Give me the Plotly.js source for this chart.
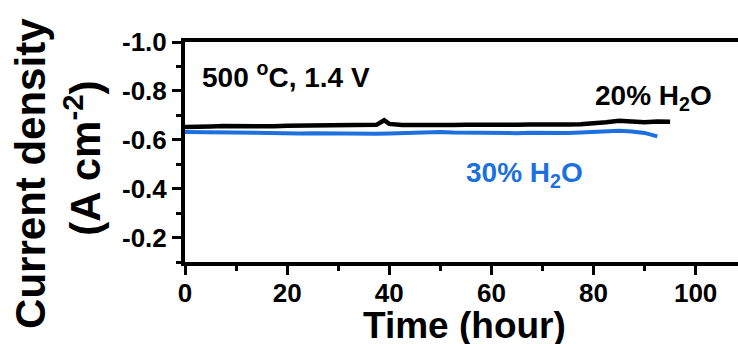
<!DOCTYPE html>
<html>
<head>
<meta charset="utf-8">
<script src="https://cdn.plot.ly/plotly-3.0.1.min.js"></script>
<style>html,body{margin:0;padding:0;background:#fff;}#chart{width:738px;height:344px;}</style>
</head>
<body>
<div id="chart"></div>
<script>
// Time (hour)
const time20 = [0,2.5,5,7.5,10,12.5,15,17.5,20,22.5,25,27.5,30,32.5,35,37.5,39,40,42.5,45,47.5,50,52.5,55,57.5,60,62.5,65,67.5,70,72.5,75,77.5,80,82.5,85,87.5,90,92.5,95];
const current20 = [-0.652,-0.655,-0.654,-0.656,-0.655,-0.657,-0.656,-0.655,-0.657,-0.658,-0.657,-0.658,-0.659,-0.658,-0.660,-0.661,-0.680,-0.665,-0.660,-0.659,-0.660,-0.661,-0.660,-0.661,-0.660,-0.661,-0.660,-0.661,-0.662,-0.661,-0.662,-0.663,-0.664,-0.667,-0.672,-0.678,-0.673,-0.672,-0.675,-0.674];
const time30 = [0,2.5,5,7.5,10,12.5,15,17.5,20,22.5,25,27.5,30,32.5,35,37.5,40,42.5,45,47.5,50,52.5,55,57.5,60,62.5,65,67.5,70,72.5,75,77.5,80,82.5,85,87.5,90,92.5];
const current30 = [-0.632,-0.631,-0.630,-0.629,-0.629,-0.628,-0.627,-0.628,-0.627,-0.626,-0.627,-0.626,-0.625,-0.626,-0.627,-0.625,-0.626,-0.628,-0.631,-0.634,-0.632,-0.630,-0.629,-0.628,-0.627,-0.628,-0.627,-0.629,-0.628,-0.627,-0.628,-0.630,-0.633,-0.632,-0.637,-0.634,-0.628,-0.614];
const xTickVals = [0,20,40,60,80,100];
const yTickVals = [-1.0,-0.8,-0.6,-0.4,-0.2];
const yTickText = ['-1.0','-0.8','-0.6','-0.4','-0.2'];
const label20 = '20% H<sub>2</sub>O';
const label30 = '30% H<sub>2</sub>O';
const condition = '500 <sup>o</sup>C, 1.4 V';
const yTitle1 = 'Current density';
const yTitle2 = '(A cm<sup>-2</sup>)';
const xTitle = 'Time (hour)';

const BLUE = '#1c70e0';
const FONT = 'Liberation Sans, Arial, sans-serif';

const traces = [
  {x: time20, y: current20, type: 'scatter', mode: 'lines', line: {color: '#000000', width: 4.5}, showlegend: false},
  {x: time30, y: current30, type: 'scatter', mode: 'lines', line: {color: BLUE, width: 4}, showlegend: false}
];

const layout = {
  width: 738, height: 344,
  margin: {l: 185, r: 0, t: 42, b: 82},
  paper_bgcolor: '#ffffff', plot_bgcolor: '#ffffff',
  font: {family: FONT, color: '#000', size: 26},
  xaxis: {
    range: [0, 108.3],
    tickvals: xTickVals,
    ticks: 'outside', ticklen: 9, tickwidth: 3, tickcolor: '#000',
    minor: {dtick: 10, tick0: 0, ticks: 'outside', ticklen: 5, tickwidth: 3, tickcolor: '#000'},
    showline: true, linewidth: 4, linecolor: '#000', mirror: true,
    showgrid: false, zeroline: false,
    ticklabelstandoff: -4,
    tickfont: {family: FONT, size: 26, color: '#000', weight: 'bold'}
  },
  yaxis: {
    range: [-0.1, -1.0],
    tickvals: yTickVals, ticktext: yTickText,
    ticks: 'outside', ticklen: 9, tickwidth: 3, tickcolor: '#000',
    minor: {dtick: 0.1, tick0: 0, ticks: 'outside', ticklen: 5, tickwidth: 3, tickcolor: '#000'},
    showline: true, linewidth: 4, linecolor: '#000', mirror: false,
    showgrid: false, zeroline: false,
    tickfont: {family: FONT, size: 26, color: '#000', weight: 'bold'}
  },
  annotations: [
    {x: -0.2785, y: 0.405, xref: 'paper', yref: 'paper', text: '<b>' + yTitle1 + '</b>', textangle: -90, showarrow: false, xanchor: 'center', yanchor: 'middle', font: {family: FONT, size: 42, color: '#000'}},
    {x: -0.186, y: 0.47, xref: 'paper', yref: 'paper', text: '<b>' + yTitle2 + '</b>', textangle: -90, showarrow: false, xanchor: 'center', yanchor: 'middle', font: {family: FONT, size: 42, color: '#000'}},
    {x: 0.506, y: -0.288, xref: 'paper', yref: 'paper', text: '<b>' + xTitle + '</b>', showarrow: false, xanchor: 'center', yanchor: 'middle', font: {family: FONT, size: 37, color: '#000'}},
    {x: 3.0, y: -0.865, xref: 'x', yref: 'y', text: '<b>' + condition + '</b>', showarrow: false, xanchor: 'left', yanchor: 'middle', font: {family: FONT, size: 28, color: '#000'}},
    {x: 80.0, y: -0.775, xref: 'x', yref: 'y', text: '<b>' + label20 + '</b>', showarrow: false, xanchor: 'left', yanchor: 'middle', font: {family: FONT, size: 28, color: '#000'}},
    {x: 54.6, y: -0.46, xref: 'x', yref: 'y', text: '<b>' + label30 + '</b>', showarrow: false, xanchor: 'left', yanchor: 'middle', font: {family: FONT, size: 28, color: BLUE}}
  ]
};

Plotly.newPlot('chart', traces, layout, {displayModeBar: false, staticPlot: true});
</script>
</body>
</html>
